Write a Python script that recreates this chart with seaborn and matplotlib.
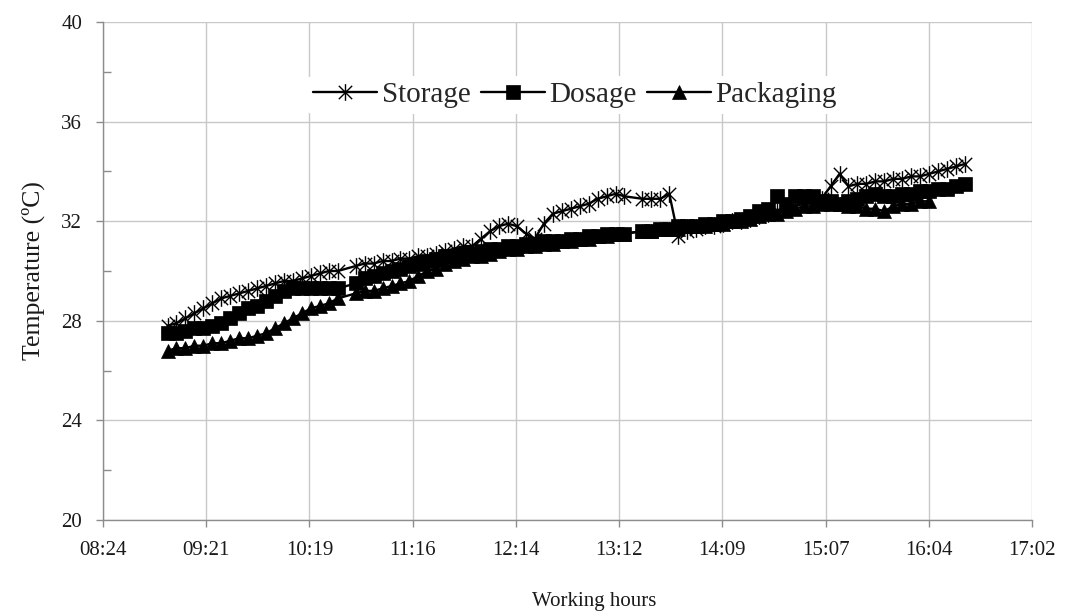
import numpy as np
import pandas as pd
import matplotlib
matplotlib.use("Agg")
import matplotlib.pyplot as plt
from matplotlib.path import Path
from matplotlib.ticker import MultipleLocator, FixedLocator
import seaborn as sns

# ---------------- data ----------------
times = [
    "09:00", "09:05", "09:10", "09:15", "09:20", "09:25", "09:30", "09:35", "09:40", "09:45",
    "09:50", "09:55", "10:00", "10:05", "10:10", "10:15", "10:20", "10:25", "10:30", "10:35",
    "10:45", "10:50", "10:55", "11:00", "11:05", "11:10", "11:15", "11:20", "11:25",
    "11:30", "11:35", "11:40", "11:45", "11:50", "11:55", "12:00", "12:05", "12:10", "12:15",
    "12:20", "12:25", "12:30", "12:35", "12:40", "12:45", "12:50", "12:55", "13:00", "13:05",
    "13:10", "13:15",
    "13:25", "13:30", "13:35", "13:40", "13:45", "13:50", "13:55",
    "14:00", "14:05", "14:10", "14:15", "14:20", "14:25", "14:30", "14:35", "14:40", "14:45",
    "14:50", "14:55", "15:00", "15:05", "15:10", "15:15", "15:20", "15:25", "15:30", "15:35",
    "15:40", "15:45", "15:50", "15:55", "16:00", "16:05", "16:10", "16:15", "16:20", "16:25",
]

storage = [
    27.8, 27.9, 28.1, 28.3, 28.5, 28.7, 28.9, 29.0, 29.1, 29.2,
    29.3, 29.4, 29.5, 29.6, 29.6, 29.7, 29.8, 29.9, 30.0, 30.0,
    30.2, 30.3, 30.3, 30.4, 30.4, 30.5, 30.5, 30.6, 30.6,
    30.7, 30.8, 30.9, 31.0, 31.0, 31.3, 31.6, 31.8, 31.9, 31.8,
    31.5, 31.3, 31.9, 32.3, 32.4, 32.5, 32.6, 32.7, 32.9, 33.0,
    33.1, 33.0,
    32.9, 32.9, 32.9, 33.1, 31.4, 31.6, 31.7,
    31.8, 31.8, 31.9, 32.0, 32.0, 32.1, 32.2, 32.3, 32.4, 32.5,
    32.6, 32.7, 32.7, 32.9, 33.4, 33.9, 33.4, 33.5, 33.5, 33.6,
    33.6, 33.7, 33.7, 33.8, 33.8, 33.9, 34.0, 34.1, 34.2, 34.3,
]

dosage = [
    27.5, 27.5, 27.6, 27.7, 27.7, 27.8, 27.9, 28.1, 28.3, 28.5,
    28.6, 28.8, 29.0, 29.2, 29.3, 29.3, 29.3, 29.3, 29.3, 29.3,
    29.5, 29.7, 29.8, 29.9, 30.0, 30.1, 30.2, 30.3, 30.4,
    30.5, 30.6, 30.6, 30.7, 30.7, 30.8, 30.9, 30.9, 31.0, 31.0,
    31.1, 31.1, 31.2, 31.2, 31.2, 31.3, 31.3, 31.4, 31.4, 31.5,
    31.5, 31.5,
    31.6, 31.6, 31.7, 31.7, 31.8, 31.8, 31.8,
    31.9, 31.9, 32.0, 32.0, 32.1, 32.2, 32.4, 32.5, 33.0, 32.7,
    33.0, 33.0, 33.0, 32.8, 32.8, 32.7, 32.8, 32.9, 33.0, 33.1,
    33.0, 33.0, 33.1, 33.1, 33.2, 33.2, 33.3, 33.3, 33.4, 33.5,
]

packaging = [
    26.8, 26.9, 26.9, 27.0, 27.0, 27.1, 27.1, 27.2, 27.3, 27.3,
    27.4, 27.5, 27.7, 27.9, 28.1, 28.3, 28.5, 28.6, 28.7, 28.9,
    29.1, 29.2, 29.2, 29.3, 29.4, 29.5, 29.6, 29.8, 30.0,
    30.1, 30.3, 30.4, 30.5, 30.6, 30.6, 30.7, 30.8, 30.9, 30.9,
    31.0, 31.0, 31.1, 31.1, 31.2, 31.2, 31.3, 31.3, 31.4, 31.4,
    31.5, 31.5,
    31.6, 31.6, 31.7, 31.7, 31.7, 31.8, 31.8,
    31.8, 31.9, 31.9, 32.0, 32.0, 32.1, 32.2, 32.3, 32.3, 32.4,
    32.5, 32.6, 32.6, 32.7, 32.7, 32.7, 32.6, 32.6, 32.5, 32.5,
    32.4, 32.6, 32.7, 32.7, 32.8, 32.8,
]

series_names = ["Storage", "Dosage", "Packaging"]
x_tick_labels = ["08:24", "09:21", "10:19", "11:16", "12:14",
                 "13:12", "14:09", "15:07", "16:04", "17:02"]
y_ticks = [20, 24, 28, 32, 36, 40]
x_label = "Working hours"
y_label = "Temperature (ºC)"


def to_day(s):
    h, m = s.split(":")
    return (int(h) * 60 + int(m)) / 1440.0


# ---------------- style ----------------
sns.set_style("white")
plt.rcParams["font.family"] = ["Liberation Serif", "DejaVu Serif"]

fig = plt.figure(figsize=(10.92, 6.15), dpi=100)
ax = fig.add_axes([103 / 1092, 1 - 520 / 615, (1032 - 103) / 1092, (520 - 22) / 615])

x_days = [to_day(t) for t in times]

ast = Path([(0, -1), (0, 1), (-0.8, -0.8), (0.8, 0.8), (-0.8, 0.8), (0.8, -0.8)],
           [Path.MOVETO, Path.LINETO, Path.MOVETO, Path.LINETO, Path.MOVETO, Path.LINETO])

styles = {
    "Storage": dict(marker=ast, markersize=12, markeredgewidth=1.0),
    "Dosage": dict(marker="s", markersize=9.5, markeredgewidth=0.5),
    "Packaging": dict(marker="^", markersize=10, markeredgewidth=0.5),
}
values = {"Storage": storage, "Dosage": dosage, "Packaging": packaging}

for name in series_names:
    vals = values[name]
    df = pd.DataFrame({"time": x_days[:len(vals)], "temp": vals})
    sns.lineplot(data=df, x="time", y="temp", ax=ax, color="black",
                 linewidth=1.7, markeredgecolor="black", markerfacecolor="black",
                 label=name, **styles[name])

# axes
ax.set_xlim(0.35, 0.71)
ax.set_ylim(20, 40)
ax.xaxis.set_major_locator(FixedLocator([0.35 + 0.04 * k for k in range(len(x_tick_labels))]))
ax.set_xticklabels(x_tick_labels)
ax.set_yticks(y_ticks)
ax.yaxis.set_minor_locator(MultipleLocator(2))

ax.grid(True, which="major", color="#c8c8c8", linewidth=1.0)
ax.set_axisbelow(True)
for s in ["top", "right"]:
    ax.spines[s].set_visible(False)
for s in ["left", "bottom"]:
    ax.spines[s].set_color("#8c8c8c")
    ax.spines[s].set_linewidth(1.0)

ax.tick_params(axis="both", which="major", direction="out", length=5, width=1,
               color="#8c8c8c", labelsize=15, pad=10, bottom=True, left=True,
               labelcolor="#1a1a1a")
ax.tick_params(axis="y", which="minor", direction="in", length=6, width=1,
               color="#8c8c8c", left=True)

ax.set_xlabel(x_label, fontsize=15, labelpad=20, color="#1a1a1a")
ax.xaxis.set_label_coords((594 - 103) / 929, -0.145)
ax.set_ylabel(y_label, fontsize=18.5, labelpad=12, color="#1a1a1a")

handles, labels = ax.get_legend_handles_labels()
leg = ax.legend(handles, labels, loc="center", bbox_to_anchor=(0.508, 0.853),
                ncol=3, frameon=True, facecolor="white", edgecolor="none",
                framealpha=1, fontsize=21, handlelength=2.2, handletextpad=0.15,
                columnspacing=0.35, borderpad=0.2)

fig.savefig("out.png", dpi=100)
